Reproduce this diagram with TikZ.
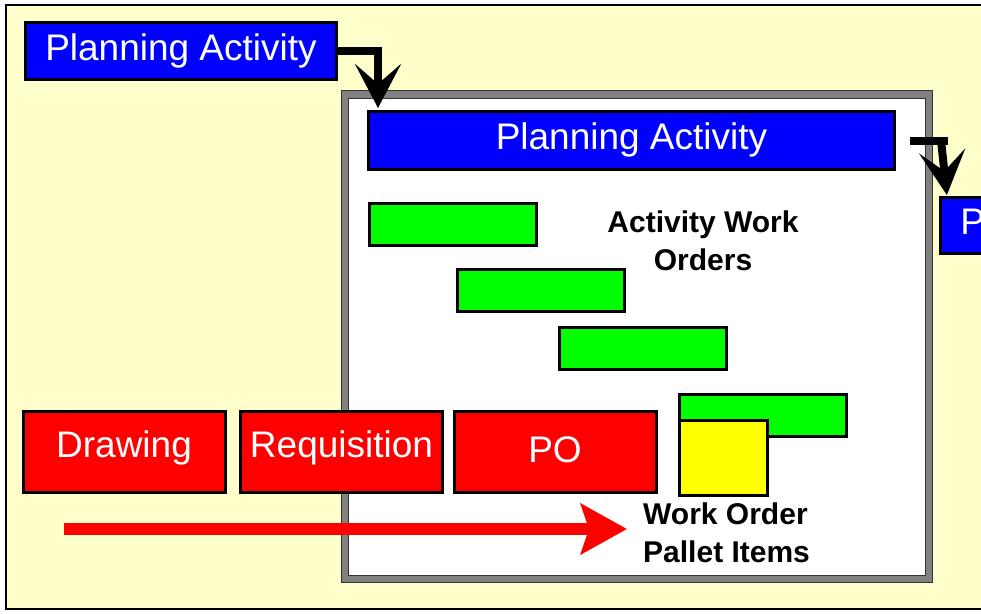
\documentclass[tikz,border=0pt]{standalone}
\usepackage{fontspec}
\setmainfont{Liberation Sans}
\usetikzlibrary{arrows.meta}
\definecolor{bgyellow}{HTML}{FFFFCC}
\definecolor{pblue}{HTML}{0000FF}
\definecolor{pred}{HTML}{FF0000}
\definecolor{pgreen}{HTML}{00FF00}
\definecolor{pyellow}{HTML}{FFFF00}
\begin{document}
\begin{tikzpicture}[x=1pt,y=-1pt,
  box/.style={draw=black, line width=3pt, inner sep=0pt, text=white,
    font=\fontsize{37}{44}\selectfont, text height=27pt},
  bluebox/.style={box, fill=pblue, minimum width=311pt, minimum height=57pt, text depth=9pt},
  redbox/.style={box, fill=pred, minimum width=202pt, minimum height=81pt, text depth=17pt},
  greenbox/.style={draw=black, line width=3pt, fill=pgreen, inner sep=0pt, minimum width=167pt, minimum height=42pt},
  yellowbox/.style={draw=black, line width=3pt, fill=pyellow, inner sep=0pt, minimum width=88pt, minimum height=75pt},
  label/.style={inner sep=0pt, font=\fontsize{30}{38}\selectfont\bfseries, text=black},
  bigarrow/.style={line width=8pt, draw=black, -{Stealth[length=44pt, width=46pt, inset=20pt]}},
  redarrow/.style={line width=12pt, draw=pred, -{Stealth[length=46pt, width=50pt, inset=8pt]}},
  framebox/.style={draw=black!50, line width=8pt, fill=white},
]
\useasboundingbox (0,0) rectangle (981,613);
\clip (0,0) rectangle (981,613);
\fill[white] (0,0) rectangle (981,613);
% background panel
\draw[fill=bgyellow, line width=2pt] (6,5) rectangle (995,609);
% inner frame
\draw[framebox] (345,94.5) rectangle (928.5,579);
\draw[black!80, line width=0.8pt] (341.4,90.4) rectangle (932.1,582.6);
\draw[black!80, line width=0.8pt] (348.6,98.6) rectangle (924.9,575.4);

% planning boxes
\node[bluebox] (b1) at (181,51) {Planning Activity};
\node[bluebox, minimum width=526pt, minimum height=58pt] (b2) at (631.5,140.5) {Planning Activity};
\node[bluebox, minimum height=56pt] (b3) at (1096,225.5) {Planning Activity};

% connectors between planning boxes
\draw[bigarrow, shorten >=2pt] (b1.east) -| ([xshift=11pt]b2.north west);
\coordinate (bar1) at ([xshift=14pt]b2.east);
\coordinate (bar2) at ([xshift=52pt]b2.east);
\draw[line width=8pt] (bar1) -- (bar2);
\draw[bigarrow, shorten >=1pt] ([xshift=45pt]b2.east) -- ([xshift=8pt]b3.north west);

% activity work orders
\node[greenbox] (g1) at (453,224) {};
\node[greenbox] (g2) at (541,290.5) {};
\node[greenbox] (g3) at (643,348.5) {};
\node[greenbox] (g4) at (763,415.5) {};
\node[yellowbox] (y1) at (723.5,458) {};
\node[label, align=center, anchor=north] (awo) at (703,211) {Activity Work\\Orders};

% procurement chain
\node[redbox] (r1) at (124,452) {Drawing};
\node[redbox] (r2) at (341.5,452) {Requisition};
\node[redbox, text depth=7pt] (r3) at (555,452) {PO};

\coordinate (ra) at (64,529);
\coordinate (rb) at (627,529);
\draw[redarrow] (ra) -- (rb);

\node[label, align=left, anchor=north west] (wop) at (643,503) {Work Order\\Pallet Items};
\end{tikzpicture}
\end{document}
